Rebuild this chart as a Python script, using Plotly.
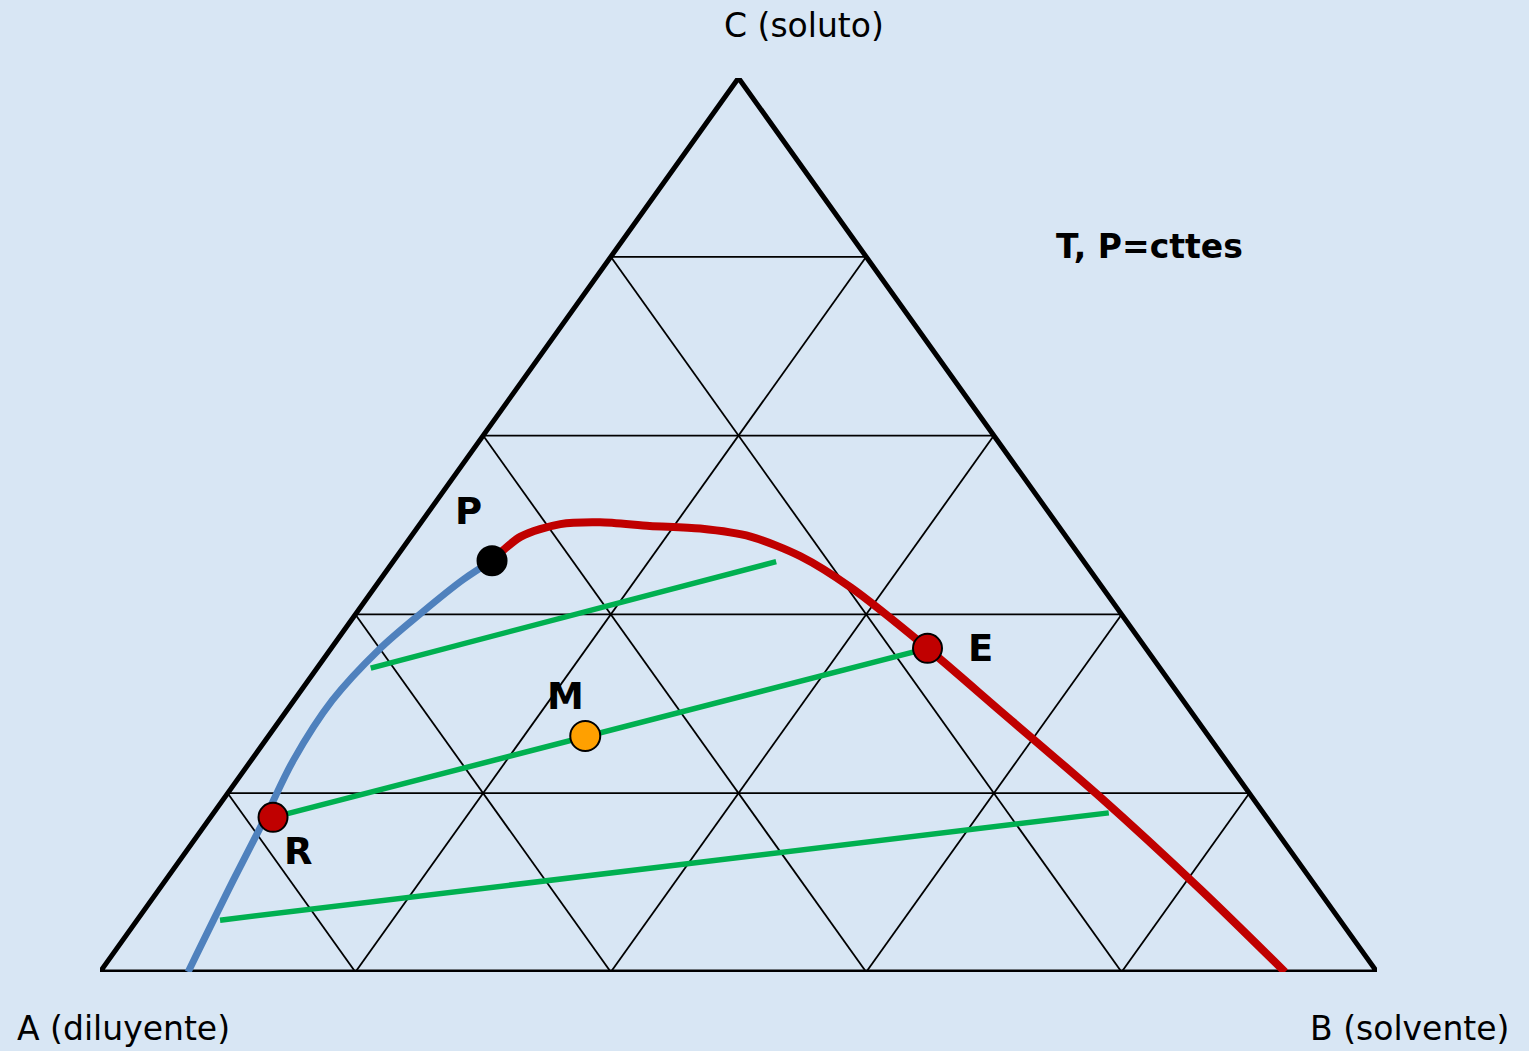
import plotly.graph_objects as go

# Ternary compositions in % : soluto (C) and solvente (B); diluyente (A) = 100 - B - C
# Raffinate branch of the binodal curve (blue), from the A-B edge up to the plait point P
raf_soluto = [0.0, 10.3, 17.3, 23.7, 30.4, 36.0, 40.2, 43.9, 46.0]
raf_solvente = [6.9, 5.3, 4.3, 3.3, 3.0, 3.8, 5.1, 6.5, 7.7]

# Extract branch of the binodal curve (red), from P down to the A-B edge
ext_soluto = [46.0, 48.7, 50.1, 50.3, 49.9, 49.6, 48.7, 46.5, 43.0,
              36.2, 29.2, 19.6, 9.2, 0.0]
ext_solvente = [7.7, 8.6, 11.0, 14.0, 18.1, 22.2, 26.6, 31.6, 37.3,
                46.7, 55.9, 68.5, 81.6, 92.8]

# Tie lines (green): pairs of end compositions
tie_soluto = [[34.0, 45.9], [17.3, 36.2], [5.8, 17.8]]
tie_solvente = [[4.2, 30.0], [4.9, 46.7], [6.5, 70.1]]

# Named points
pt_names = ["P", "E", "R", "M"]
pt_soluto = [46.0, 36.2, 17.3, 26.4]
pt_solvente = [7.7, 46.7, 4.9, 24.8]
pt_fill = ["#000000", "#c00000", "#c00000", "#ffa000"]

grid_levels = [20, 40, 60, 80]


def to_xy(soluto, solvente):
    """Ternary (C, B) in % -> cartesian x, y (A at left, B at right, C on top)."""
    xs = [b + c / 2.0 for b, c in zip(solvente, soluto)]
    ys = list(soluto)
    return xs, ys


fig = go.Figure()

grid_line = dict(color="black", width=1.8)
for g in grid_levels:
    # constant soluto
    x, y = to_xy([g, g], [0, 100 - g])
    fig.add_trace(go.Scatter(x=x, y=y, mode="lines", line=grid_line,
                             hoverinfo="skip", showlegend=False))
    # constant solvente
    x, y = to_xy([0, 100 - g], [g, g])
    fig.add_trace(go.Scatter(x=x, y=y, mode="lines", line=grid_line,
                             hoverinfo="skip", showlegend=False))
    # constant diluyente: A = g -> B + C = 100 - g
    x, y = to_xy([0, 100 - g], [100 - g, 0])
    fig.add_trace(go.Scatter(x=x, y=y, mode="lines", line=grid_line,
                             hoverinfo="skip", showlegend=False))

# Triangle outline (A, B, C vertices)
x, y = to_xy([0, 0, 100, 0], [0, 100, 0, 0])
fig.add_trace(go.Scatter(x=x, y=y, mode="lines", line=dict(color="black", width=5),
                         hoverinfo="skip", showlegend=False, cliponaxis=False))

# Tie lines
for ts, tb in zip(tie_soluto, tie_solvente):
    x, y = to_xy(ts, tb)
    fig.add_trace(go.Scatter(x=x, y=y, mode="lines", line=dict(color="#00b050", width=5.5),
                             hoverinfo="skip", showlegend=False))

# Binodal curve
x, y = to_xy(raf_soluto, raf_solvente)
fig.add_trace(go.Scatter(x=x, y=y, mode="lines",
                         line=dict(color="#4f81bd", width=7, shape="spline", smoothing=1.0),
                         hoverinfo="skip", showlegend=False, cliponaxis=False))
x, y = to_xy(ext_soluto, ext_solvente)
fig.add_trace(go.Scatter(x=x, y=y, mode="lines",
                         line=dict(color="#c00000", width=8, shape="spline", smoothing=0.8),
                         hoverinfo="skip", showlegend=False, cliponaxis=False))

# Points
x, y = to_xy(pt_soluto, pt_solvente)
fig.add_trace(go.Scatter(x=x, y=y, mode="markers",
                         marker=dict(size=[29, 29, 29, 30], color=pt_fill, opacity=1,
                                     line=dict(color="black", width=2)),
                         hoverinfo="skip", showlegend=False))

# Point labels
label_shift = {"P": (-24, 49), "E": (53, 0), "R": (25, -34), "M": (-20, 39)}
for name, xi, yi in zip(pt_names, x, y):
    dx, dy = label_shift[name]
    fig.add_annotation(x=xi, y=yi, text=name, showarrow=False, xshift=dx, yshift=dy,
                       font=dict(family="DejaVu Sans", size=37, color="black", weight="bold"))

# Vertex labels
vx, vy = to_xy([0, 0, 100], [0, 100, 0])
fig.add_annotation(x=vx[0], y=vy[0], text="A (diluyente)", showarrow=False,
                   xshift=23, yshift=-56, font=dict(family="DejaVu Sans", size=33, color="black"))
fig.add_annotation(x=vx[1], y=vy[1], text="B (solvente)", showarrow=False,
                   xshift=32, yshift=-56, font=dict(family="DejaVu Sans", size=33, color="black"))
fig.add_annotation(x=vx[2], y=vy[2], text="C (soluto)", showarrow=False,
                   xshift=65, yshift=53, font=dict(family="DejaVu Sans", size=33, color="black"))

fig.add_annotation(xref="paper", yref="paper", x=0.822, y=0.812, text="T, P=cttes",
                   showarrow=False, xanchor="center", yanchor="middle",
                   font=dict(family="DejaVu Sans", size=33, color="black", weight="bold"))

fig.update_xaxes(range=[0, 100], visible=False, fixedrange=True)
fig.update_yaxes(range=[0, 100], visible=False, fixedrange=True)
fig.update_layout(
    width=1529, height=1051,
    margin=dict(l=100, r=152, t=78, b=79),
    paper_bgcolor="#d8e6f4",
    plot_bgcolor="#d8e6f4",
    showlegend=False,
)

fig.write_html("out.html")
